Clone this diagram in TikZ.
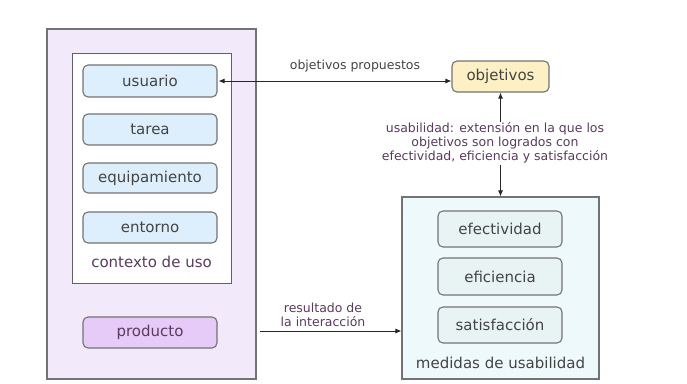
\documentclass[tikz,border=0pt]{standalone}
\usepackage{fontspec}
\setmainfont{DejaVu Sans}
\usetikzlibrary{arrows.meta}
\definecolor{outerfill}{HTML}{F2EAFB}
\definecolor{boxblue}{HTML}{DDEEFC}
\definecolor{prodfill}{HTML}{E6CAF7}
\definecolor{objfill}{HTML}{FCF0C4}
\definecolor{medfill}{HTML}{EEF9FB}
\definecolor{medbox}{HTML}{E8F4F4}
\definecolor{txt}{HTML}{444444}
\definecolor{lbltxt}{HTML}{5A3A5E}
\definecolor{edge}{HTML}{737373}
\tikzset{
  frame/.style={draw=edge, line width=1.1pt, inner sep=0pt},
  item/.style={draw=edge, line width=1.1pt, rounded corners=5pt, text=txt,
    font=\fontsize{15}{17}\selectfont, inner sep=0pt},
  lbl/.style={text=lbltxt, font=\fontsize{12.5}{14}\selectfont, align=center, inner sep=1pt},
  conn/.style={draw=black!85, line width=0.9pt, -{Latex[length=6pt,width=5pt]}},
}
\begin{document}
\begin{tikzpicture}[x=1pt,y=-1pt]
\useasboundingbox (0,0) rectangle (687,383);
% outer boxes
\node[frame, fill=outerfill, minimum width=209pt, minimum height=350pt] (outer) at (151.5,204) {};
\node[frame, draw=black!62, line width=1pt, fill=white, minimum width=159pt, minimum height=230pt] (ctx) at (151.5,168) {};
\node[frame, fill=medfill, minimum width=197pt, minimum height=182pt] (med) at (500.5,288) {};
% left items
\node[item, fill=boxblue, minimum width=134pt, minimum height=32pt] (usuario) at (150,81) {usuario};
\node[item, fill=boxblue, minimum width=134pt, minimum height=31pt] (tarea) at (150,129.5) {tarea};
\node[item, fill=boxblue, minimum width=134pt, minimum height=30pt] (equip) at (150,178) {equipamiento};
\node[item, fill=boxblue, minimum width=134pt, minimum height=31pt] (entorno) at (150,227.5) {entorno};
\node[text=lbltxt, font=\fontsize{15}{17}\selectfont] (ctxlbl) at (151.5,262) {contexto de uso};
\node[item, fill=prodfill, text=lbltxt, minimum width=134pt, minimum height=31pt] (producto) at (150,332.5) {producto};
% right items
\node[item, fill=objfill, draw=black!55, minimum width=97pt, minimum height=31pt] (obj) at (500.5,76.5) {objetivos};
\node[item, fill=medbox, minimum width=124pt, minimum height=36pt] (efec) at (500,229) {efectividad};
\node[item, fill=medbox, minimum width=124pt, minimum height=37pt] (efic) at (500,276.5) {eficiencia};
\node[item, fill=medbox, minimum width=124pt, minimum height=36pt] (satis) at (500,325) {satisfacción};
\node[text=txt, font=\fontsize{15}{17}\selectfont] (medlbl) at (500.5,363) {medidas de usabilidad};
% labels
\node[lbl, text=txt] (objprop) at (355,66) {objetivos propuestos};
\node[lbl] (usab) at (495,143) {usabilidad: extensión en la que los\\objetivos son logrados con\\efectividad, eficiencia y satisfacción};
\node[lbl] (result) at (323,315) {resultado de\\la interacción};
% connectors
\draw[conn, {Latex[length=6pt,width=5pt]}-{Latex[length=6pt,width=5pt]}] (usuario.east) ++(1,0) coordinate (ua) -- (ua -| obj.west);
\draw[conn] (obj.south |- usab.north) -- (obj.south);
\draw[conn] (obj.south |- usab.south) -- (med.north);
\coordinate (rs) at (260,331);
\draw[conn] (rs) -- (rs -| med.west);
\end{tikzpicture}
\end{document}
